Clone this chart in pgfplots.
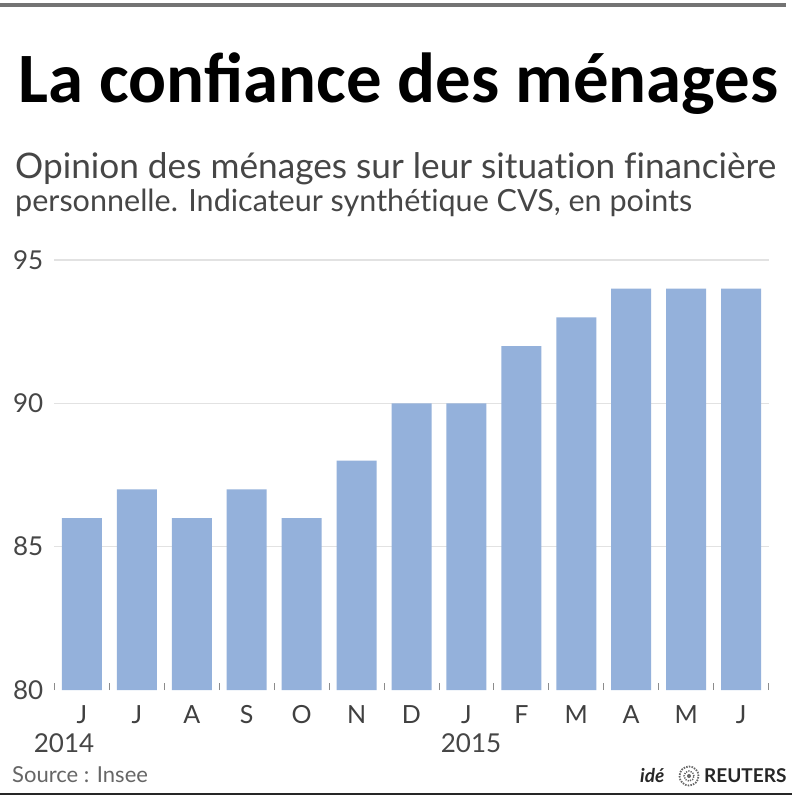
\documentclass[border=0pt]{standalone}
\usepackage{fontspec}
\setmainfont{Lato}[Ligatures={NoCommon}]
\newfontfamily\titlefont{Carlito}
\usepackage{pgfplots}
\pgfplotsset{compat=1.18}
\definecolor{barblue}{RGB}{148,177,219}
\definecolor{txtgray}{RGB}{70,70,70}
\definecolor{gridgray}{RGB}{226,226,226}
\begin{document}
\begin{tikzpicture}[x=1pt,y=1pt]
\useasboundingbox (0,0) rectangle (800,796);
\fill[white] (0,0) rectangle (800,796);
\draw[line width=4pt, color=black!55] (0,791) -- (786,791);
\draw[line width=2.5pt, color=black!85] (0,2) -- (792,2);
\node[anchor=base west, inner sep=0pt] at (18,693) {\resizebox{760pt}{!}{\titlefont\bfseries La confiance des ménages}};
\node[anchor=base west, inner sep=0pt, text=txtgray] at (15,617) {\resizebox{761pt}{!}{\fontsize{30}{36}\selectfont Opinion des ménages sur leur situation financière}};
\node[anchor=base west, inner sep=0pt, text=txtgray] at (15,584) {\resizebox{677pt}{!}{\fontsize{30}{36}\selectfont personnelle. Indicateur synthétique CVS, en points}};
\begin{axis}[
  at={(54.5pt,106pt)}, anchor=south west, scale only axis,
  width=714pt, height=430pt,
  xmin=-0.5, xmax=12.5, ymin=80, ymax=95,
  ybar, bar width=40pt,
  xtick={0,...,12}, xticklabels={J,J,A,S,O,N,D,J,F,M,A,M,J},
  minor xtick={-0.5,0.5,...,12.5},
  ytick={85,90,95}, extra y ticks={80}, extra y tick style={grid=none},
  ymajorgrids, grid style={gridgray, line width=1.3pt},
  axis x line*=bottom, axis y line*=left,
  axis line style={draw=none},
  major tick length=0pt, minor tick length=7pt, tick align=inside,
  minor tick style={black!45, line width=0.9pt},
  xticklabel style={anchor=base, yshift=-33pt, inner sep=0pt, font=\fontsize{25}{28}\selectfont, text=black!75},
  yticklabel style={anchor=east, xshift=-11pt, inner sep=0pt, font=\fontsize{26}{28}\selectfont, text=txtgray},
  /pgf/number format/assume math mode=true,
]
\addplot[fill=barblue, draw=none] coordinates {(0,86)(1,87)(2,86)(3,87)(4,86)(5,88)(6,90)(7,90)(8,92)(9,93)(10,94)(11,94)(12,94)};
\end{axis}
\node[anchor=base, inner sep=0pt, text=txtgray, font=\fontsize{26}{28}\selectfont] at (64,44) {2014};
\node[anchor=base, inner sep=0pt, text=txtgray, font=\fontsize{26}{28}\selectfont] at (471,44) {2015};
\node[anchor=base west, inner sep=0pt, text=black!60, font=\fontsize{22}{24}\selectfont] at (12,14) {Source : Insee};
\node[anchor=base west, inner sep=0pt, text=black!85, font=\fontsize{19}{20}\selectfont\bfseries\itshape] at (640,14) {idé};
\draw[black!60, line width=1.8pt, dash pattern=on 1.5pt off 1.2pt] (689,20) circle (9.5);
\draw[black!60, line width=1.5pt, dash pattern=on 1.2pt off 1.2pt] (689,20) circle (5);
\fill[black!60] (689,20) circle (2);
\node[anchor=base west, inner sep=0pt, text=black!85, font=\fontsize{19}{20}\selectfont\bfseries] at (704,14) {REUTERS};
\end{tikzpicture}
\end{document}
